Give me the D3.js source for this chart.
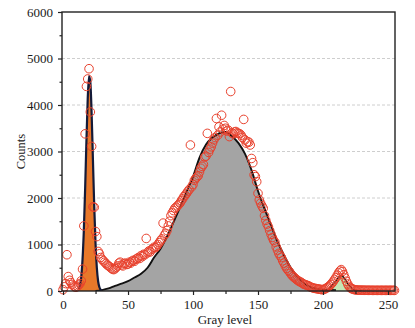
<!DOCTYPE html>
<html>
<head>
<meta charset="utf-8">
<script src="https://cdn.jsdelivr.net/npm/d3@7"></script>
<style>
  html, body { margin: 0; padding: 0; background: #fff; }
  svg { display: block; }
  text { font-family: "Liberation Serif", "DejaVu Serif", serif; fill: #1a1a1a; }
</style>
</head>
<body>
<svg id="chart" width="415" height="328"></svg>
<script>
// ---- data ----
const xTicks = [0, 50, 100, 150, 200, 250];
const xMinorTicks = [25, 75, 125, 175, 225];
const yTicks = [0, 1000, 2000, 3000, 4000, 5000, 6000];
const yMinorTicks = [500, 1500, 2500, 3500, 4500, 5500];
const gridLevels = [1000, 2000, 3000, 4000, 5000];

// measured histogram counts, gray levels 0..255
const counts = [
  30, 90, 160, 780, 310, 230, 180, 140, 110, 90,
  80, 100, 130, 160, 220, 470, 1400, 3380, 4400, 4560,
  4780, 3850, 3110, 1810, 1800, 1280, 1170, 850, 800, 720,
  680, 650, 620, 590, 560, 540, 520, 490, 470, 460,
  480, 510, 540, 600, 620, 560, 540, 590, 600, 570,
  580, 620, 600, 640, 660, 640, 680, 700, 720, 700,
  760, 740, 790, 780, 1130, 820, 860, 840, 890, 910,
  940, 930, 960, 1000, 1040, 1080, 1120, 1460, 1200, 1240,
  1300, 1400, 1500, 1620, 1680, 1730, 1780, 1800, 1830, 1860,
  1890, 1940, 1980, 2030, 2060, 2100, 2140, 2180, 3140, 2240,
  2290, 2380, 2420, 2450, 2480, 2560, 2640, 2680, 2720, 2880,
  2900, 3390, 2980, 3050, 3100, 3180, 3250, 3300, 3710, 3350,
  3530, 3420, 3780, 3480, 3560, 3500, 3440, 3460, 3320, 4290,
  3400, 3380, 3420, 3430, 3400, 3390, 3380, 3350, 3300, 3690,
  3250, 3180, 3210, 3200, 3140, 2850, 2760, 2500, 2460, 2350,
  2100, 1960, 1890, 1830, 1780, 1620, 1520, 1440, 1380, 1300,
  1220, 1150, 1090, 1050, 950, 880, 810, 760, 720, 650,
  600, 540, 490, 450, 420, 380, 340, 310, 290, 260,
  240, 220, 200, 190, 170, 150, 140, 130, 120, 110,
  90, 80, 70, 60, 55, 50, 45, 40, 35, 30,
  30, 40, 50, 70, 90, 110, 140, 170, 210, 250,
  290, 340, 390, 430, 460, 420, 350, 280, 210, 150,
  100, 70, 50, 40, 30, 25, 20, 20, 18, 18,
  18, 16, 16, 16, 15, 15, 15, 15, 14, 14,
  14, 14, 14, 14, 14, 14, 14, 14, 14, 14,
  14, 14, 14, 14, 14, 14
];

// fitted component 1 (orange peak)
const peak1Levels = [12, 13, 14, 15, 16, 17, 18, 19, 20, 21, 22, 23, 24, 25, 26, 27, 28, 29, 30];
const peak1Values = [40, 120, 300, 680, 1300, 2200, 3230, 4140, 4620, 4490, 3810, 2820, 1820, 1020, 500, 210, 80, 25, 5];

// fitted component 2 (gray peak)
const peak2Levels = [25, 30, 35, 40, 45, 50, 55, 60, 65, 70, 75, 80, 85, 90, 95, 100, 105, 110, 115, 120, 125, 130, 135, 140, 145, 150, 155, 160, 165, 170, 175, 180, 185, 190, 195, 200, 205, 210];
const peak2Values = [0, 20, 55, 110, 160, 210, 290, 370, 500, 720, 910, 1170, 1480, 1800, 2130, 2460, 2870, 3150, 3300, 3390, 3420, 3330, 3180, 2950, 2600, 2150, 1770, 1410, 1060, 770, 510, 320, 180, 90, 50, 30, 20, 15];

// fitted component 3 (small peak)
const peak3Levels = [198, 202, 205, 207, 209, 211, 213, 214, 215, 217, 219, 221, 223, 226, 230];
const peak3Values = [0, 20, 60, 120, 190, 260, 320, 335, 320, 250, 160, 90, 40, 10, 0];

// ---- drawing ----
const svg = d3.select("#chart");
const mLeft = 62, mRight = 395, mTop = 12, mBottom = 291;

const x = d3.scaleLinear().domain([-0.8, 255.4]).range([mLeft, mRight]);
const y = d3.scaleLinear().domain([0, 6000]).range([mBottom, mTop]);

// grid
svg.append("g").selectAll("line").data(gridLevels).join("line")
  .attr("x1", mLeft).attr("x2", mRight)
  .attr("y1", d => y(d)).attr("y2", d => y(d))
  .attr("stroke", "#c8c8c8").attr("stroke-width", 0.9)
  .attr("stroke-dasharray", "3,2");

svg.append("clipPath").attr("id", "plotclip")
  .append("rect").attr("x", mLeft).attr("y", mTop).attr("width", mRight - mLeft).attr("height", mBottom - mTop);

const plot = svg.append("g").attr("clip-path", "url(#plotclip)");

const p1 = peak1Levels.map((v, i) => [v, peak1Values[i]]);
const p2 = peak2Levels.map((v, i) => [v, peak2Values[i]]);
const p3 = peak3Levels.map((v, i) => [v, peak3Values[i]]);

const area = d3.area().x(d => x(d[0])).y0(y(0)).y1(d => y(d[1])).curve(d3.curveMonotoneX);
const line = d3.line().x(d => x(d[0])).y(d => y(d[1])).curve(d3.curveMonotoneX);

plot.append("path").datum(p2).attr("d", area).attr("fill", "#a4a4a4");
plot.append("path").datum(p3).attr("d", area).attr("fill", "#c4e6b4");
plot.append("path").datum(p1).attr("d", area).attr("fill", "#e8782a");

plot.append("path").datum(p2).attr("d", line).attr("fill", "none").attr("stroke", "#111").attr("stroke-width", 1.9);
plot.append("path").datum(p3).attr("d", line).attr("fill", "none").attr("stroke", "#111").attr("stroke-width", 1.5);
plot.append("path").datum(p1).attr("d", line).attr("fill", "none").attr("stroke", "#141a38").attr("stroke-width", 2.2);

// measured points
svg.append("g").selectAll("circle").data(counts).join("circle")
  .attr("cx", (d, i) => x(i)).attr("cy", d => y(d)).attr("r", 4.3)
  .attr("fill", "none").attr("stroke", "#e8412d").attr("stroke-width", 1);

// frame
svg.append("rect").attr("x", mLeft).attr("y", mTop).attr("width", mRight - mLeft).attr("height", mBottom - mTop)
  .attr("fill", "none").attr("stroke", "#222").attr("stroke-width", 1.4);

// axes
const xAxis = svg.append("g").attr("transform", `translate(0,${mBottom})`)
  .call(d3.axisBottom(x).tickValues(xTicks).tickFormat(d3.format("d")).tickSize(4).tickPadding(5).tickSizeOuter(0));
const xMinor = svg.append("g").attr("transform", `translate(0,${mBottom})`)
  .call(d3.axisBottom(x).tickValues(xMinorTicks).tickSize(3).tickFormat("").tickSizeOuter(0));
const yAxis = svg.append("g").attr("transform", `translate(${mLeft},0)`)
  .call(d3.axisLeft(y).tickValues(yTicks).tickFormat(d3.format("d")).tickSize(4).tickPadding(5).tickSizeOuter(0));
const yMinor = svg.append("g").attr("transform", `translate(${mLeft},0)`)
  .call(d3.axisLeft(y).tickValues(yMinorTicks).tickSize(2.5).tickFormat("").tickSizeOuter(0));

[xAxis, xMinor, yAxis, yMinor].forEach(g => {
  g.select(".domain").remove();
  g.selectAll("line").attr("stroke", "#222").attr("stroke-width", 1.2);
  g.selectAll("text").attr("font-family", "Liberation Serif, serif").attr("font-size", 13).attr("fill", "#1a1a1a");
});

// axis titles
svg.append("text").attr("x", 225).attr("y", 324)
  .attr("text-anchor", "middle").attr("font-size", 13).text("Gray level");
svg.append("text").attr("transform", `translate(25,${(mTop + mBottom) / 2}) rotate(-90)`)
  .attr("text-anchor", "middle").attr("font-size", 12.5).text("Counts");
</script>
</body>
</html>
